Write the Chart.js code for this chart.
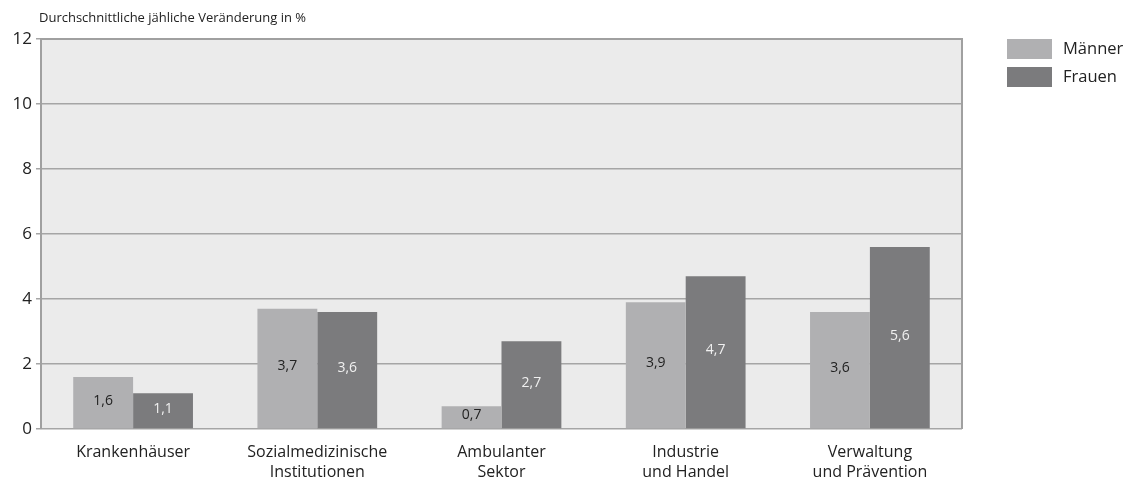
<!DOCTYPE html>
<html lang="de">
<head>
<meta charset="utf-8">
<title>Durchschnittliche jährliche Veränderung</title>
<script src="https://cdn.jsdelivr.net/npm/chart.js@4/dist/chart.umd.min.js"></script>
<style>
  html, body { margin: 0; padding: 0; background: #fff; }
  #wrap { width: 1129px; height: 486px; position: relative; }
</style>
</head>
<body>
<div id="wrap"><canvas id="chart"></canvas></div>
<script>
// --- data ---
const categories = [
  'Krankenhäuser',
  ['Sozialmedizinische', 'Institutionen'],
  ['Ambulanter', 'Sektor'],
  ['Industrie', 'und Handel'],
  ['Verwaltung', 'und Prävention']
];
const maenner = [1.6, 3.7, 0.7, 3.9, 3.6];
const frauen = [1.1, 3.6, 2.7, 4.7, 5.6];
const yTicks = [0, 2, 4, 6, 8, 10, 12];
const axisTitle = 'Durchschnittliche jähliche Veränderung in %';

const FONT = '"Open Sans", "DejaVu Sans", sans-serif';

// plot background + frame
const plotFrame = {
  id: 'plotFrame',
  beforeDraw(chart) {
    const { ctx, chartArea: a } = chart;
    ctx.save();
    ctx.fillStyle = '#ebebeb';
    ctx.fillRect(a.left, a.top, a.right - a.left, a.bottom - a.top);
    ctx.restore();
  },
  afterDatasetsDraw(chart) {
    const { ctx, chartArea: a } = chart;
    ctx.save();
    ctx.strokeStyle = '#a0a0a0';
    ctx.lineWidth = 2;
    ctx.beginPath();
    ctx.moveTo(a.left, a.top);
    ctx.lineTo(a.right, a.top);
    ctx.lineTo(a.right, a.bottom);
    ctx.stroke();
    ctx.restore();
  }
};

// values in the middle of each bar
const barLabels = {
  id: 'barLabels',
  afterDatasetsDraw(chart) {
    const { ctx } = chart;
    ctx.save();
    ctx.font = '14px ' + FONT;
    ctx.textAlign = 'center';
    ctx.textBaseline = 'middle';
    chart.data.datasets.forEach((ds, i) => {
      chart.getDatasetMeta(i).data.forEach((bar, j) => {
        const txt = ds.data[j].toFixed(1).replace('.', ',');
        ctx.fillStyle = ds.labelColor;
        ctx.fillText(txt, bar.x, (bar.y + bar.base) / 2 - 2);
      });
    });
    ctx.restore();
  }
};

// axis title top-left and legend on the right
const extras = {
  id: 'extras',
  afterDraw(chart) {
    const { ctx, chartArea: a } = chart;
    ctx.save();
    ctx.fillStyle = '#222';
    ctx.font = '13px ' + FONT;
    ctx.textAlign = 'left';
    ctx.textBaseline = 'middle';
    ctx.fillText(axisTitle, a.left - 2, 18);

    ctx.font = '16.5px ' + FONT;
    chart.data.datasets.forEach((ds, i) => {
      const y = 39 + i * 28;
      ctx.fillStyle = ds.backgroundColor;
      ctx.fillRect(1007, y, 45, 20);
      ctx.fillStyle = '#222';
      ctx.fillText(ds.label, 1063, y + 10);
    });
    ctx.restore();
  }
};

new Chart(document.getElementById('chart'), {
  type: 'bar',
  data: {
    labels: categories,
    datasets: [
      { label: 'Männer', data: maenner, backgroundColor: '#b0b0b2', labelColor: '#222' },
      { label: 'Frauen', data: frauen, backgroundColor: '#7b7b7d', labelColor: '#f0f0f0' }
    ]
  },
  options: {
    responsive: true,
    maintainAspectRatio: false,
    animation: false,
    layout: { padding: { top: 39, right: 167, left: 0, bottom: 0 } },
    datasets: { bar: { categoryPercentage: 0.65, barPercentage: 1.0 } },
    plugins: {
      legend: { display: false },
      tooltip: { enabled: false }
    },
    scales: {
      x: {
        grid: { display: false, drawTicks: false },
        border: { display: false },
        ticks: { color: '#222', font: { family: FONT, size: 16, lineHeight: 1.25 }, padding: 13, maxRotation: 0 },
        afterFit(scale) { scale.height = 57; }
      },
      y: {
        min: 0,
        max: 12,
        afterBuildTicks(scale) { scale.ticks = yTicks.map(v => ({ value: v })); },
        grid: { color: '#a5a5a5', lineWidth: 1.5, tickLength: 5 },
        border: { color: '#a0a0a0', width: 2 },
        ticks: { color: '#222', font: { family: FONT, size: 17 }, padding: 4 },
        afterFit(scale) { scale.width = 41; }
      }
    }
  },
  plugins: [plotFrame, barLabels, extras]
});
</script>
</body>
</html>
